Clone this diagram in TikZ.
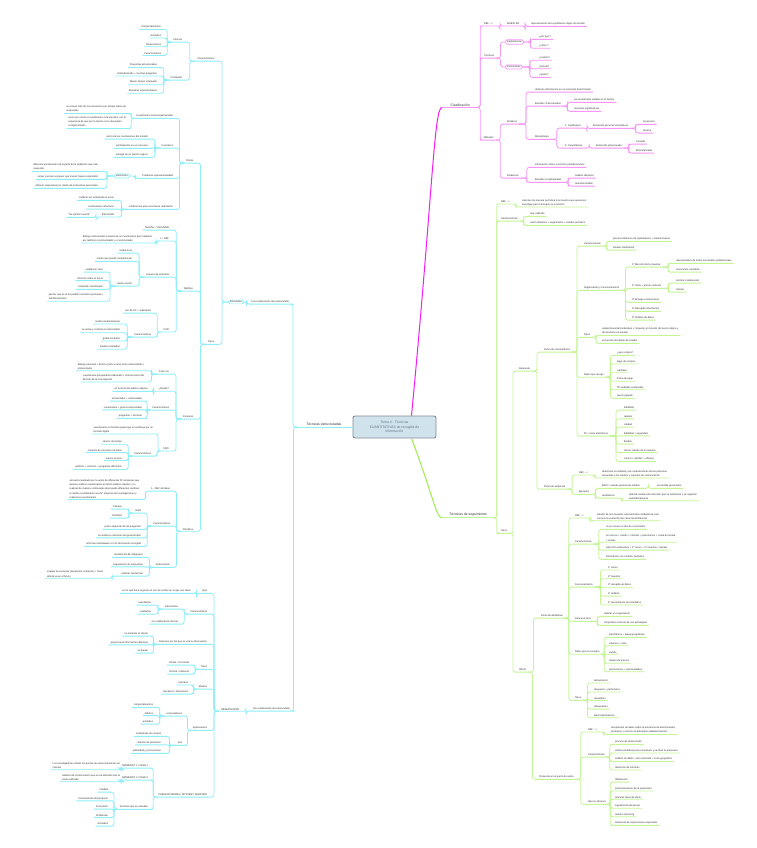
\documentclass[tikz,border=0pt]{standalone}
\usepackage{fontspec}
\setmainfont{Liberation Sans}
\usetikzlibrary{calc,positioning}

\definecolor{cyanl}{RGB}{140,238,248}
\definecolor{magl}{RGB}{248,150,248}
\definecolor{magm}{RGB}{240,30,240}
\definecolor{grnl}{RGB}{196,244,150}
\definecolor{grnm}{RGB}{160,236,80}
\definecolor{txt}{RGB}{45,45,45}
\definecolor{boxf}{RGB}{208,226,236}
\definecolor{boxd}{RGB}{130,140,148}
\definecolor{boxt}{RGB}{95,115,130}

\tikzset{
  tp/.style={font=\fontsize{2.5}{4.2}\selectfont, text=txt, inner xsep=1.8pt, inner ysep=1pt, align=left},
  lt/.style={tp, anchor=east},
  rt/.style={tp, anchor=west},
  big/.style={font=\fontsize{3.4}{4.4}\selectfont},
  lk/.style={line width=0.8pt, rounded corners=2.5pt},
  tbox/.style={draw, rounded corners=1.5pt, line width=0.7pt},
}

\begin{document}
\begin{tikzpicture}[x=1pt,y=-1pt]
  \path[fill=white] (0,0) rectangle (757,848);
  \useasboundingbox (0,0) rectangle (757,848);
  % child on the left / on the right of its parent
  \def\lnd(#1,#2)#3#4#5{
    \node[lt] (#3) at (#1,#2) {#5};
    \draw[lk,\lc] (#4) -| ($(#4)!.5!(#3.south east)$) |- (#3.south east) -- (#3.south west);
  }
  \def\rnd(#1,#2)#3#4#5{
    \node[rt] (#3) at (#1,#2) {#5};
    \draw[lk,\lc] (#4) -| ($(#4)!.5!(#3.south west)$) |- (#3.south west) -- (#3.south east);
  }

  \node[draw=boxd, fill=boxf, rounded corners=2pt, line width=0.9pt, minimum width=83pt,
    minimum height=22pt, align=center, font=\fontsize{3.4}{4.4}\selectfont, text=boxt]
    (tema) at (394.5,427) {Tema 4 - Técnicas\\CUANTITATIVAS de recogida de\\información};

  % left
  \def\lc{cyanl}
  \node[tp, big, anchor=south east, minimum width=57pt] (tecest) at (tema.west) {Técnicas estructuradas};
  \draw[lk,\lc] (tema.west) -- (tecest.south west);
  \lnd(291,302){concol}{tecest.south west}{Con colaboración del entrevistado}
  \lnd(292,709){sincol}{tecest.south west}{Sin colaboración del entrevistado}

  \node[lt,tbox,draw=\lc] (enc) at (244,302) {Encuestas};
  \draw[lk,\lc] (concol.south west) -| ($(concol.south west)!.5!(enc.east)$) |- (enc.east);
  \lnd(216,59){carE}{enc.west}{Características}
  \lnd(216,342){tipE}{enc.west}{Tipos}

  \lnd(184,40){inf}{carE.south west}{Informa}
  \lnd(184,78){cont}{carE.south west}{Contenido}
  \foreach \t [count=\i] in {Comportamientos,Actitudes,Motivaciones,Características}
    {\lnd(163,18.5+8.7*\i){inf\i}{inf.south west}{\t}}
  \foreach \t [count=\i] in {Preguntas estructuradas,Estandarizado + muchas preguntas,Menor tiempo empleado,Muestras representativas}
    {\lnd(159,56.5+8.6*\i){cont\i}{cont.south west}{\t}}

  \foreach \n/\t/\y in {postal/Postal/161, tel/Teléfono/289, pers/Personal/417, omni/Ómnibus/529}
    {\lnd(195,\y){\n}{tipE.south west}{\t}}

  % postal
  \lnd(175,116){cuest}{postal.south west}{Cuestionario autocumplimentado}
  \lnd(175,146){incen}{postal.south west}{Incentivos}
  \lnd(175,176){probl}{postal.south west}{Problema representatividad}
  \lnd(175,207){condi}{postal.south west}{condiciones para una buena realización}
  \lnd(128,109){cuest1}{cuest.south west}{se envían más de los necesarios por el bajo índice de\\respuestas}
  \lnd(128,122){cuest2}{cuest.south west}{envío por correo el cuestionario a la muestra, con la\\esperanza de que por lo menos se lo devuelvan\\cumplimentado}
  \foreach \t [count=\i] in {envío de las conclusiones del estudio, participación en un concurso, entrega de un premio seguro}
    {\lnd(150,128+9*\i){incen\i}{incen.south west}{\t}}
  \node[lt,tbox,draw=\lc] (soluc) at (130,176) {soluciones};
  \draw[lk,\lc] (probl.south west) -| ($(probl.south west)!.5!(soluc.east)$) |- (soluc.east);
  \lnd(100,167){sol1}{soluc.west}{diferente ponderación de la parte de la población que más\\responde}
  \lnd(100,177){sol2}{soluc.west}{volver a enviar a grupos que menos hayan respondido}
  \lnd(100,186){sol3}{soluc.west}{obtener respuestas por medio de entrevistas personales}
  \foreach \n/\t/\y in {condi1/codificar por anticipado el envío/198, condi2/cuestionarios atractivos/207, condi3/ESLOGAN/215}
    {\lnd(116,\y){\n}{condi.south west}{\t}}
  \lnd(92,215){esl}{condi3.south west}{``Su opinión cuenta''}

  % telefono
  \lnd(171,228){tel1}{tel.south west}{Tamaño + VOLUMEN}
  \lnd(171,239){tel2}{tel.south west}{1.- DEF}
  \lnd(154,238.5){tel2a}{tel2.south west}{diálogo estructurado a través de un cuestionario que mediante\\por teléfono el entrevistador y el entrevistado}
  \lnd(171,275){tel3}{tel.south west}{manera de realizarla}
  \lnd(171,330){cati}{tel.south west}{CATI}
  \lnd(134,251){tel31}{tel3.south west}{media hora}
  \lnd(134,259){tel32}{tel3.south west}{medio que puede cumplimentar}
  \lnd(134,284){tel33}{tel3.south west}{medio escrito}
  \foreach \t [count=\i] in {establecer citas, informar sobre el envío, completar cuestionario}
    {\lnd(105,261.5+8.5*\i){esc\i}{tel33.south west}{\t}}
  \lnd(105,297){esc4}{tel33.south west}{pensar que se le ha podido encuestar personal o\\telefónicamente}
  \lnd(153,311){cati1}{cati.south west}{uso de PC + ordenador}
  \lnd(153,335){cati2}{cati.south west}{Características}
  \foreach \t [count=\i] in {realiza aleatoriamente, se anota y controla al entrevistado, graba los datos, analiza resultados}
    {\lnd(122,313.5+8.4*\i){catc\i}{cati2.south west}{\t}}

  % personal
  \lnd(171,372){pers1}{pers.south west}{Cómo es}
  \lnd(146,366.5){pers1a}{pers1.south west}{diálogo personal + directo (cara a cara) entre entrevistado y\\entrevistador}
  \lnd(146,377.5){pers1b}{pers1.south west}{cuestionario previamente elaborado + instrucciones del\\director de la investigación}
  \lnd(171,389){pers2}{pers.south west}{¿Dónde?}
  \lnd(150,389){pers2a}{pers2.south west}{en función del público objetivo}
  \lnd(171,408){pers3}{pers.south west}{Características}
  \foreach \t [count=\i] in {encuestador + entrevistado, cuestionario + guía al entrevistado, preguntas + técnicas}
    {\lnd(144,390.5+8.5*\i){perc\i}{pers3.south west}{\t}}
  \lnd(171,449){capi}{pers.south west}{CAPI}
  \lnd(155,429.5){capi1}{capi.south west}{cuestionario en formato papel que se sustituye por un\\formato digital}
  \lnd(153,454){capi2}{capi.south west}{Características}
  \foreach \t [count=\i] in {ahorro de tiempo, creación de una base de datos, menos errores, gráficos + archivos + preguntas diferentes}
    {\lnd(124,433.5+8.4*\i){capc\i}{capi2.south west}{\t}}

  % omnibus
  \lnd(172,489){omn1}{omni.south west}{1.- DEF ómnibus}
  \lnd(142,489){omn1a}{omn1.south west}{encuesta realizada por la unión de diferentes Nº empresas que\\quieren realizar cuestionarios al mismo público objetivo y lo\\realizan de manera continuada observando diferentes cambios;\\lo realiza normalmente una Nº empresa de investigaciones y\\realiza los cuestionarios}
  \lnd(172,524){omn2}{omni.south west}{Características}
  \lnd(143,511){omn21}{omn2.south west}{Multi}
  \lnd(124,507){mul1}{omn21.south west}{Clientes}
  \lnd(124,516){mul2}{omn21.south west}{Temática}
  \foreach \t [count=\i] in {precio depende de las preguntas, se realiza a colectivos de igual tamaño, informes individuales con la información recogida}
    {\lnd(143,518.5+8.5*\i){omc\i}{omn2.south west}{\t}}
  \lnd(172,565){omn3}{omni.south west}{Aplicaciones}
  \foreach \t [count=\i] in {localización de subgrupos, seguimiento de respuestas, analizar tendencias}
    {\lnd(145,545.5+9.5*\i){oma\i}{omn3.south west}{\t}}
  \lnd(105,574){oma3a}{oma3.south west}{evaluar la evolución (expansión, producto) + hacia\\dónde va en el futuro}

  % observacion
  \lnd(241,709){obs}{sincol.south west}{OBSERVACIÓN}
  \lnd(209,591){obs1}{obs.south west}{Qué}
  \lnd(193,591){obs1a}{obs1.south west}{ver lo que hace la gente en vez de confiar en lo que nos dicen}
  \lnd(209,612){obs2}{obs.south west}{Características}
  \lnd(180,607){obs21}{obs2.south west}{Información}
  \lnd(153,603){obs211}{obs21.south west}{cuantitativa}
  \lnd(153,612){obs212}{obs21.south west}{cualitativa}
  \lnd(180,622){obs22}{obs2.south west}{sin colaboración directa}
  \lnd(209,642){obs3}{obs.south west}{Razones por las que se usa la observación}
  \foreach \t [count=\i] in {no molestar al cliente, proporciona información diferente, es barato}
    {\lnd(150,625.5+8.5*\i){raz\i}{obs3.south west}{\t}}
  \lnd(209,667){obs4}{obs.south west}{Tipos}
  \lnd(191,663){obs41}{obs4.south west}{Oculta / Conocida}
  \lnd(191,672){obs42}{obs4.south west}{Directa / Indirecta}
  \lnd(209,687){obs5}{obs.south west}{Medios}
  \lnd(190,683){obs51}{obs5.south west}{Humana}
  \lnd(190,692){obs52}{obs5.south west}{mecánica / electrónica}
  \lnd(209,728){obs6}{obs.south west}{Aplicaciones}
  \lnd(184,714){obs61}{obs6.south west}{consumidores}
  \foreach \t [count=\i] in {comportamientos, hábitos, actitudes}
    {\lnd(155,696.5+8.5*\i){con\i}{obs61.south west}{\t}}
  \lnd(184,743){obs62}{obs6.south west}{pdv}
  \foreach \t [count=\i] in {estanterías de compra, rotación de productos, publicidad y promociones}
    {\lnd(163,725.5+8.5*\i){pdv\i}{obs62.south west}{\t}}
  \lnd(209,795){obs7}{obs.south west}{PSEUDOCOMPRA / MYSTERY SHOPPER}
  \lnd(150,766){ps1}{obs7.south west}{MOMENTO 1 / FASE 1}
  \lnd(122,765.5){ps1a}{ps1.south west}{Los investigadores visitan los puntos de venta simulando ser\\clientes}
  \lnd(150,778){ps2}{obs7.south west}{MOMENTO 2 / FASE 2}
  \lnd(122,777.5){ps2a}{ps2.south west}{Análisis de la información que se ha obtenido tras la\\visita realizada}
  \lnd(150,807){ps3}{obs7.south west}{Factores que se estudian}
  \foreach \t [count=\i] in {Calidad, Conocimiento del producto, Formación, Problemas, Actitudes}
    {\lnd(110,781.5+8.5*\i){fac\i}{ps3.south west}{\t}}

  % right, top
  \def\lc{magl}
  \node[tp, big, anchor=west, minimum width=36pt] (clas) at (442,105) {Clasificación};
  \draw[line width=1pt,magm] ([xshift=17pt]tema.north) .. controls (433,190) and ([xshift=-8pt]clas.south west) .. (clas.south west);
  \draw[lk,\lc] (clas.south west) -- (clas.south east);
  \rnd(482,24){def1}{clas.south east}{DEF -{}->}
  \rnd(505,24){mues}{def1.south east}{MUESTRA}
  \rnd(529,24){mues1}{mues.south east}{representación de la población objeto de estudio}
  \rnd(482,56){tecn}{clas.south east}{Técnicas}
  \node[rt,tbox,draw=\lc] (expl) at (505,42) {Exploratorias};
  \draw[lk,\lc] (tecn.south east) -| ($(tecn.south east)!.5!(expl.west)$) |- (expl.west);
  \node[rt,tbox,draw=\lc] (concl) at (505,67) {Conclusivas};
  \draw[lk,\lc] (tecn.south east) -| ($(tecn.south east)!.5!(concl.west)$) |- (concl.west);
  \rnd(537,37){expl1}{expl.east}{¿por qué ?}
  \rnd(537,46){expl2}{expl.east}{¿cómo ?}
  \foreach \t [count=\i] in {¿Cuánto?, ¿Dónde?, ¿Quién?}
    {\rnd(537,49.5+8.5*\i){conc\i}{concl.east}{\t}}
  \rnd(482,138){meto}{clas.south east}{Métodos}
  \rnd(505,122){esta}{meto.south east}{Estáticos}
  \rnd(533,90){esta1}{esta.south east}{obtienen información en un momento determinado}
  \rnd(533,104){esta2}{esta.south east}{Estudios Transversales}
  \rnd(572,100){tra1}{esta2.south east}{seccionamiento aislado en el tiempo}
  \rnd(572,109){tra2}{esta2.south east}{muestras significativas}
  \rnd(533,137){esta3}{esta.south east}{Metodología}
  \rnd(563,126){cual}{esta3.south east}{1. Cualitativos}
  \rnd(591,126){cual1}{cual.south east}{Entrevista personal centrada en}
  \rnd(641,122){cual11}{cual1.south east}{la persona}
  \rnd(641,131){cual12}{cual1.south east}{el tema}
  \rnd(563,146){cuan}{esta3.south east}{2. Cuantitativos}
  \rnd(594,146){cuan1}{cuan.south east}{Entrevista estructurada}
  \rnd(634,142){cuan11}{cuan1.south east}{Cerrada}
  \rnd(634,151){cuan12}{cuan1.south east}{Estandarizada}
  \rnd(505,176){dina}{meto.south east}{Dinámicos}
  \rnd(533,165){dina1}{dina.south east}{información sobre el entorno periódicamente}
  \rnd(533,180){dina2}{dina.south east}{Estudios Longitudinales}
  \rnd(573,176){lon1}{dina2.south east}{análisis dinámico}
  \rnd(573,184){lon2}{dina2.south east}{muestra estable}

  % right, bottom
  \def\lc{grnl}
  \node[tp, big, anchor=west, minimum width=52pt] (tseg) at (442,515) {Técnicas de seguimiento};
  \draw[line width=1pt,grnm] ([xshift=17pt]tema.south) .. controls (434,498) and ([xshift=-6pt]tseg.south west) .. (tseg.south west);
  \draw[lk,\lc] (tseg.south west) -- (tseg.south east);
  \rnd(499,202){gdef}{tseg.south east}{DEF -{}->}
  \rnd(520,202.5){gdef1}{gdef.south east}{colectivo de manera periódica a la muestra que queremos\\investigar para conseguir su evolución}
  \rnd(499,219){gcar}{tseg.south east}{Características}
  \rnd(528,214){gcar1}{gcar.south east}{muy utilizado}
  \rnd(528,223){gcar2}{gcar.south east}{visión dinámica + seguimiento + estudio periódico}
  \rnd(499,531){gtip}{tseg.south east}{Tipos}
  \rnd(517,369){dem}{gtip.south east}{Demanda}
  \rnd(517,670){ofe}{gtip.south east}{Oferta}
  \rnd(542,350){pcon}{dem.south east}{Panel de consumidores}
  \rnd(542,487){paud}{dem.south east}{Panel de audiencia}

  \rnd(582,244){pc1}{pcon.south east}{Características}
  \rnd(611,239){pc11}{pc1.south east}{proceso laborioso de implantación + mantenimiento}
  \rnd(611,248){pc12}{pc1.south east}{estudio multicliente}
  \rnd(582,288){pc2}{pcon.south east}{Organización y Funcionamiento}
  \rnd(630,265){pc21}{pc2.south east}{1º Elección de la muestra}
  \rnd(674,261){pc211}{pc21.south east}{representativa de todos los estratos poblacionales}
  \rnd(674,270){pc212}{pc21.south east}{renovación constante}
  \rnd(630,286){pc22}{pc2.south east}{2º Visita + primer contacto}
  \rnd(674,281){pc221}{pc22.south east}{solicitar colaboración}
  \rnd(674,290){pc222}{pc22.south east}{motivar}
  \foreach \t [count=\i] in {3º Entrega cuestionarios, 4º Recogida información, 5º Análisis de datos}
    {\rnd(630,291+9*\i){pcs\i}{pc2.south east}{\t}}
  \rnd(582,335){pc3}{pcon.south east}{Tipos}
  \rnd(600,331){pc31}{pc3.south east}{unidad muestral (individuos + hogares) en función del sector objeto y\\del producto en estudio}
  \rnd(600,341){pc32}{pc3.south east}{en función del objeto de estudio}
  \rnd(582,375){pc4}{pcon.south east}{Datos que recoge}
  \foreach \t [count=\i] in {¿qué compra?, lugar de compra, cantidad, forma de pago, Nº unidades compradas, precio pagado}
    {\rnd(615,344.4+8.6*\i){pcd\i}{pc4.south east}{\t}}
  \rnd(582,434){pc5}{pcon.south east}{Nº + toma electrónica}
  \foreach \t [count=\i] in {fiabilidad, rapidez, calidad, fiabilidad + seguridad, flexible, menor retardo de la muestra, control + rapidez + eficacia}
    {\rnd(622,399.5+8.5*\i){pce\i}{pc5.south east}{\t}}

  \rnd(577,473){pa1}{paud.south east}{DEF -{}->}
  \rnd(600,473.5){pa11}{pa1.south east}{determina la cantidad y las características de las personas\\expuestas a los medios y soportes de comunicación}
  \rnd(577,492){pa2}{paud.south east}{Ejemplos}
  \rnd(600,486){pa21}{pa2.south east}{EGM = estudio general de medios}
  \rnd(655,486){pa211}{pa21.south east}{encuestas personales}
  \rnd(600,496){pa22}{pa2.south east}{Audímetros}
  \rnd(627,496.5){pa221}{pa22.south east}{detecta canales de televisión que se sintonizan y se registran\\automáticamente}

  \rnd(539,616){pdet}{ofe.south east}{Panel de detallistas}
  \rnd(537,777){ppv}{ofe.south east}{Presencia en el punto de venta}
  \rnd(573,516){pd1}{pdet.south east}{DEF -{}->}
  \rnd(595,516.5){pd11}{pd1.south east}{estudio de una muestra representativa mediante la cual\\conocer la evolución del canal de distribución}
  \rnd(573,542){pd2}{pdet.south east}{Características}
  \rnd(604,527){pd21}{pd2.south east}{no se conoce el tipo de consumidor}
  \rnd(604,538){pd22}{pd2.south east}{se conoce + ventas + rotación + penetración + cuota de tienda\\+ ventas}
  \rnd(604,548){pd23}{pd2.south east}{selección exhaustiva + 1º censo + 2º muestra + tiendas}
  \rnd(604,557){pd24}{pd2.south east}{información con carácter periódico}
  \rnd(573,585){pd3}{pdet.south east}{Funcionamiento}
  \foreach \t [count=\i] in {1º censo, 2º muestra, 3º recogida de datos, 4º análisis, 5º presentación de resultados}
    {\rnd(606,559.2+8.7*\i){pdf\i}{pd3.south east}{\t}}
  \rnd(573,619){pd4}{pdet.south east}{Para qué sirve}
  \rnd(602,614){pd41}{pd4.south east}{realizar un seguimiento}
  \rnd(602,623){pd42}{pd4.south east}{comprobar el efecto de sus estrategias}
  \rnd(573,652){pd5}{pdet.south east}{Datos que se recogen}
  \foreach \t [count=\i] in {importancia + áreas geográficas, volumen + valor, surtido, niveles de precios, promociones + oportunidades}
    {\rnd(607,626.4+8.6*\i){pdr\i}{pd5.south east}{\t}}
  \rnd(573,698){pd6}{pdet.south east}{Tipos}
  \foreach \t [count=\i] in {alimentación, droguería + perfumería, recambios, restauración, electrodomésticos\dots}
    {\rnd(592,672.2+8.7*\i){pdt\i}{pd6.south east}{\t}}

  \rnd(586,730){pp1}{ppv.south east}{DEF -{}->}
  \rnd(609,730){pp11}{pp1.south east}{recopilación de datos sobre la presencia de determinados\\productos y marcas en diferentes establecimientos}
  \rnd(586,755){pp2}{ppv.south east}{Características}
  \foreach \t [count=\i] in {proceso de observación, visitas periódicas para reconducir y verificar la presencia, análisis de datos + tipo minorista + zona geográfica, redacción de informes}
    {\rnd(613,733.4+8.6*\i){ppc\i}{pp2.south east}{\t}}
  \rnd(586,802){pp3}{ppv.south east}{Qué se observa}
  \foreach \t [count=\i] in {distribución, posicionamiento de la exposición, artículos fuera de stock, seguimiento del precio, número de facing, existencia de exposiciones especiales}
    {\rnd(613,771.4+8.6*\i){ppo\i}{pp3.south east}{\t}}
\end{tikzpicture}
\end{document}
